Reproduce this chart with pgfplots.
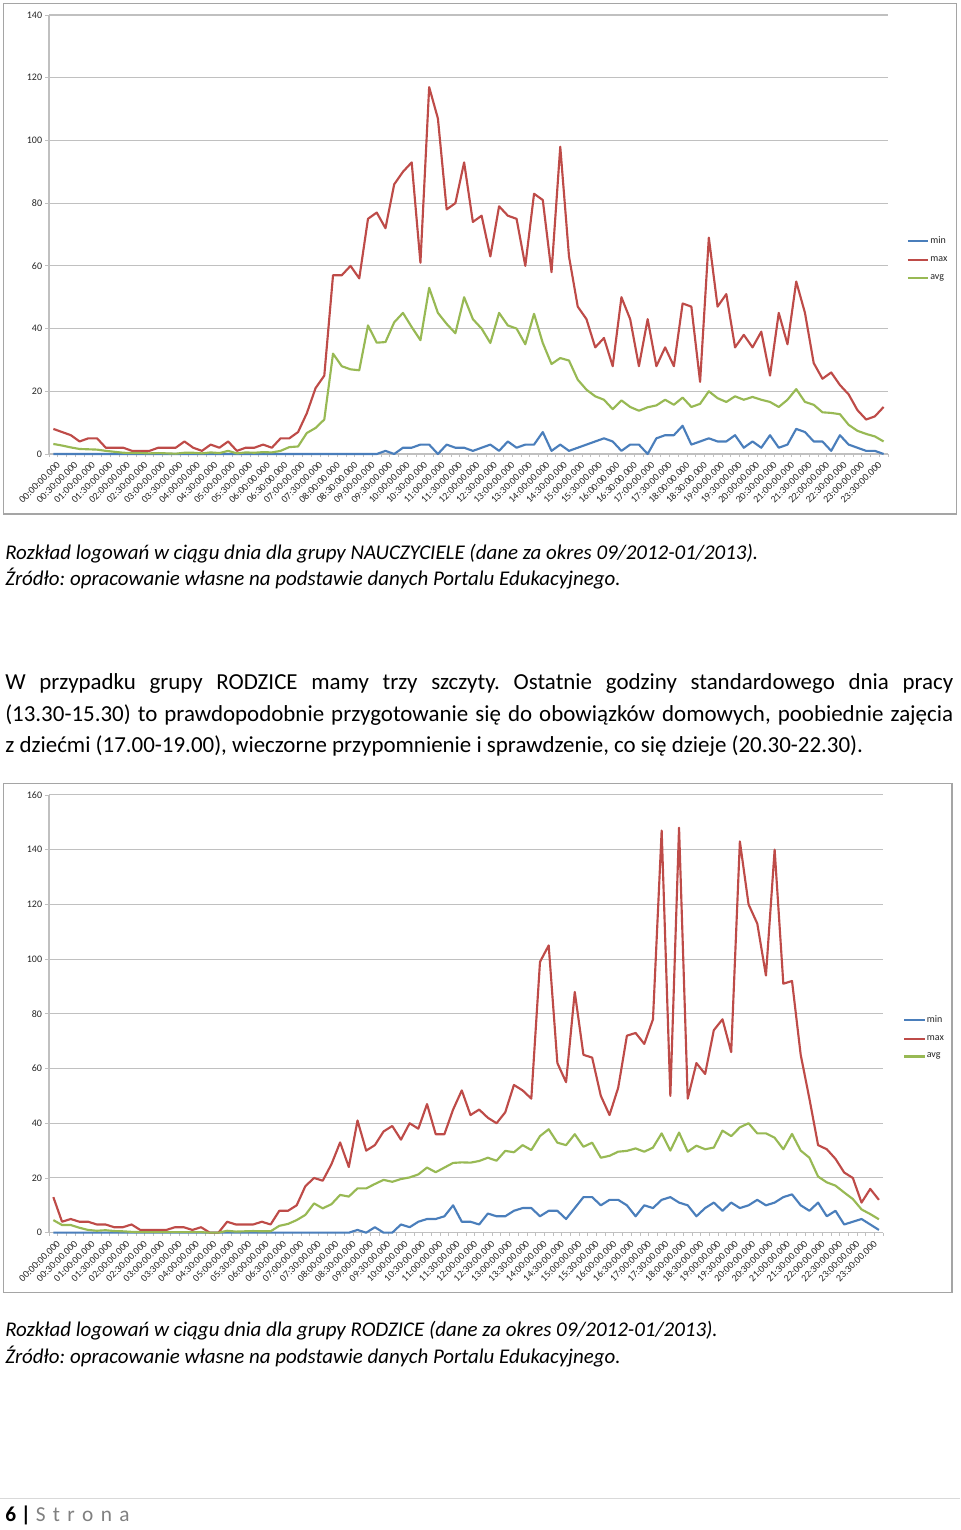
\documentclass[border=0pt]{standalone}
\usepackage{pgfplots}
\pgfplotsset{compat=1.18}
\usepackage{pgfplotstable}
\usepackage{fontspec}
\setmainfont{Carlito}
\frenchspacing
\definecolor{cmin}{RGB}{74,126,187}
\definecolor{cmax}{RGB}{190,75,72}
\definecolor{cavg}{RGB}{152,185,84}
\definecolor{gridc}{RGB}{192,192,192}
\definecolor{framec}{RGB}{165,165,165}

\pgfplotstableread{
i mn mx av
0 0 8 3.2
1 0 7 2.7
2 0 6 2.1
3 0 4 1.6
4 0 5 1.5
5 0 5 1.4
6 0 2 1.0
7 0 2 0.7
8 0 2 0.4
9 0 1 0.3
10 0 1 0.3
11 0 1 0.2
12 0 2 0.3
13 0 2 0.2
14 0 2 0.1
15 0 4 0.4
16 0 2 0.4
17 0 1 0.2
18 0 3 0.5
19 0 2 0.3
20 0 4 1.0
21 0 1 0.2
22 0 2 0.5
23 0 2 0.4
24 0 3 0.6
25 0 2 0.5
26 0 5 1.0
27 0 5 2.2
28 0 7 2.4
29 0 13 6.7
30 0 21 8.3
31 0 25 11
32 0 57 32
33 0 57 28
34 0 60 27
35 0 56 26.7
36 0 75 41
37 0 77 35.5
38 1 72 35.7
39 0 86 42
40 2 90 45
41 2 93 40.5
42 3 61 36.3
43 3 117 53
44 0 107 45
45 3 78 41.5
46 2 80 38.5
47 2 93 50
48 1 74 43
49 2 76 40
50 3 63 35.4
51 1 79 45
52 4 76 41
53 2 75 40
54 3 60 35
55 3 83 44.7
56 7 81 35.4
57 1 58 28.7
58 3 98 30.6
59 1 63 29.8
60 2 47 23.7
61 3 43 20.5
62 4 34 18.4
63 5 37 17.3
64 4 28 14.3
65 1 50 17.1
66 3 43 15
67 3 28 13.8
68 0 43 14.9
69 5 28 15.5
70 6 34 17.3
71 6 28 15.7
72 9 48 18
73 3 47 15
74 4 23 16
75 5 69 20
76 4 47 17.8
77 4 51 16.6
78 6 34 18.4
79 2 38 17.3
80 4 34 18.2
81 2 39 17.3
82 6 25 16.6
83 2 45 15
84 3 35 17.3
85 8 55 20.7
86 7 45 16.6
87 4 29 15.7
88 4 24 13.3
89 1 26 13.1
90 6 22 12.7
91 3 19 9.3
92 2 14 7.4
93 1 11 6.4
94 1 12 5.6
95 0 15 4.0
}\nauczyciele

\pgfplotstableread{
i mn mx av
0 0 13 4.6
1 0 4 2.8
2 0 5 2.8
3 0 4 1.8
4 0 4 1.0
5 0 3 0.7
6 0 3 0.9
7 0 2 0.6
8 0 2 0.5
9 0 3 0.3
10 0 1 0.2
11 0 1 0.2
12 0 1 0.2
13 0 1 0.2
14 0 2 0.2
15 0 2 0.2
16 0 1 0.2
17 0 2 0.2
18 0 0 0
19 0 0 0
20 0 4 0.7
21 0 3 0.4
22 0 3 0.5
23 0 3 0.6
24 0 4 0.5
25 0 3 0.5
26 0 8 2.5
27 0 8 3.2
28 0 10 4.6
29 0 17 6.5
30 0 20 10.7
31 0 19 8.9
32 0 25 10.4
33 0 33 13.8
34 0 24 13.2
35 1 41 16.2
36 0 30 16.2
37 2 32 17.8
38 0 37 19.3
39 0 39 18.6
40 3 34 19.6
41 2 40 20.2
42 4 38 21.3
43 5 47 23.8
44 5 36 22.1
45 6 36 23.8
46 10 45 25.5
47 4 52 25.7
48 4 43 25.6
49 3 45 26.2
50 7 42 27.4
51 6 40 26.3
52 6 44 29.9
53 8 54 29.4
54 9 52 32
55 9 49 30.2
56 6 99 35.3
57 8 105 37.8
58 8 62 32.9
59 5 55 32
60 9 88 36
61 13 65 31.4
62 13 64 32.9
63 10 50 27.4
64 12 43 28.1
65 12 53 29.6
66 10 72 29.9
67 6 73 30.8
68 10 69 29.6
69 9 78 31.1
70 12 147 36.3
71 13 50 30
72 11 148 36.6
73 10 49 29.6
74 6 62 31.8
75 9 58 30.5
76 11 74 31.1
77 8 78 37.3
78 11 66 35.3
79 9 143 38.5
80 10 120 40
81 12 113 36.3
82 10 94 36.3
83 11 140 34.7
84 13 91 30.5
85 14 92 36.1
86 10 65 30
87 8 49 27.4
88 11 32 20.5
89 6 30.5 18.4
90 8 27 17.2
91 3 22 14.7
92 4 20 12.3
93 5 11 8.5
94 3 16 6.8
95 1 12 4.9
}\rodzice

\pgfplotsset{
  excel/.style={
    scale only axis,
    clip=false,
    axis x line*=bottom, axis y line*=left,
    every outer x axis line/.append style={-},
    every outer y axis line/.append style={-},
    every inner x axis line/.append style={-},
    every inner y axis line/.append style={-},
    axis line style={-, gridc, line width=0.8pt},
    xmin=-0.5, xmax=95.5, ymin=0,
    xtick={0,2,...,94},
    xticklabels={00:00:00.000,00:30:00.000,01:00:00.000,01:30:00.000,02:00:00.000,02:30:00.000,03:00:00.000,03:30:00.000,04:00:00.000,04:30:00.000,05:00:00.000,05:30:00.000,06:00:00.000,06:30:00.000,07:00:00.000,07:30:00.000,08:00:00.000,08:30:00.000,09:00:00.000,09:30:00.000,10:00:00.000,10:30:00.000,11:00:00.000,11:30:00.000,12:00:00.000,12:30:00.000,13:00:00.000,13:30:00.000,14:00:00.000,14:30:00.000,15:00:00.000,15:30:00.000,16:00:00.000,16:30:00.000,17:00:00.000,17:30:00.000,18:00:00.000,18:30:00.000,19:00:00.000,19:30:00.000,20:00:00.000,20:30:00.000,21:00:00.000,21:30:00.000,22:00:00.000,22:30:00.000,23:00:00.000,23:30:00.000},
    minor xtick={-0.5,0.5,...,95.5},
    tick align=outside,
    major x tick style={draw=none},
    minor x tick style={gridc, line width=0.6pt},
    major y tick style={gridc, line width=0.6pt},
    major tick length=3pt, minor tick length=2.4pt,
    ymajorgrids, grid style={gridc, line width=0.8pt},
    xticklabel style={rotate=45, anchor=north east, inner sep=0.5pt, yshift=-2.5pt, xshift=0.5pt, font=\fontsize{7.5}{8}\selectfont, text=black!85},
    yticklabel style={font=\fontsize{7.5}{8}\selectfont, text=black!85, inner sep=2pt},
    /pgf/number format/assume math mode=true,
    legend cell align=left,
    legend image code/.code={\draw[#1] (0pt,0pt) -- (15.5pt,0pt);},
    legend style={draw=none, fill=none, inner sep=0pt, row sep=6.9pt,
      font=\fontsize{7.5}{8}\selectfont, text=black!85,
      nodes={inner sep=0.6pt}},
    every axis plot/.append style={line width=1.6pt, line join=round},
  }
}

\begin{document}
\begin{tikzpicture}
\useasboundingbox (0pt,0pt) rectangle (720pt,-1147.5pt);
\fill[white] (0pt,0pt) rectangle (720pt,-1147.5pt);

% frames
\draw[framec, line width=1.1pt] (2.6pt,-2.6pt) rectangle (717.4pt,-385.5pt);
\draw[framec, line width=1.1pt] (2.6pt,-587.6pt) rectangle (714pt,-969.4pt);

% top chart
\begin{axis}[excel,
  at={(36.75pt,-340.5pt)}, anchor=south west,
  width=629.25pt, height=329.25pt,
  ymax=140, ytick={0,20,...,140},
  legend style={at={(1.022,0.444)}, anchor=west}]
\addplot[cmin] table[x=i,y=mn]{\nauczyciele};
\addplot[cmax] table[x=i,y=mx]{\nauczyciele};
\addplot[cavg] table[x=i,y=av]{\nauczyciele};
\legend{min,max,avg}
\end{axis}

% bottom chart
\begin{axis}[excel,
  at={(36.75pt,-924.5pt)}, anchor=south west,
  width=625.7pt, height=328.3pt,
  ymax=160, ytick={0,20,...,160},
  legend style={at={(1.0236,0.445)}, anchor=west}]
\addplot[cmin] table[x=i,y=mn]{\rodzice};
\addplot[cmax] table[x=i,y=mx]{\rodzice};
\addplot[cavg] table[x=i,y=av]{\rodzice};
\legend{min,max,avg}
\end{axis}

% captions and text
\node[anchor=base west, inner sep=0pt] at (3.75pt,-419.5pt) {\fontsize{15.7}{18}\selectfont\itshape Rozkład logowań w ciągu dnia dla grupy NAUCZYCIELE (dane za okres 09/2012-01/2013).};
\node[anchor=base west, inner sep=0pt] at (3.75pt,-438.75pt) {\fontsize{15.7}{18}\selectfont\itshape Źródło: opracowanie własne na podstawie danych Portalu Edukacyjnego.};

\node[anchor=base west, inner sep=0pt] at (3.75pt,-517pt) {\fontsize{17.2}{20}\selectfont\makebox[711pt][s]{W przypadku grupy RODZICE mamy trzy szczyty. Ostatnie godziny standardowego dnia pracy}};
\node[anchor=base west, inner sep=0pt] at (3.75pt,-540.75pt) {\fontsize{17.2}{20}\selectfont\makebox[711pt][s]{(13.30-15.30) to prawdopodobnie przygotowanie się do obowiązków domowych, poobiednie zajęcia}};
\node[anchor=base west, inner sep=0pt] at (3.75pt,-564.5pt) {\fontsize{17.2}{20}\selectfont z dziećmi (17.00-19.00), wieczorne przypomnienie i sprawdzenie, co się dzieje (20.30-22.30).};

\node[anchor=base west, inner sep=0pt] at (3.75pt,-1002.5pt) {\fontsize{15.7}{18}\selectfont\itshape Rozkład logowań w ciągu dnia dla grupy RODZICE (dane za okres 09/2012-01/2013).};
\node[anchor=base west, inner sep=0pt] at (3.75pt,-1022.5pt) {\fontsize{15.7}{18}\selectfont\itshape Źródło: opracowanie własne na podstawie danych Portalu Edukacyjnego.};

% footer
\draw[black!15, line width=0.8pt] (0pt,-1123.7pt) -- (720pt,-1123.7pt);
\node[anchor=base west, inner sep=0pt] at (3.75pt,-1141.3pt) {\fontsize{16}{19}\selectfont\textbf{6 |} \textcolor{black!50}{S\kern5.5pt t\kern5.5pt r\kern5.5pt o\kern5.5pt n\kern5.5pt a}};
\end{tikzpicture}
\end{document}
